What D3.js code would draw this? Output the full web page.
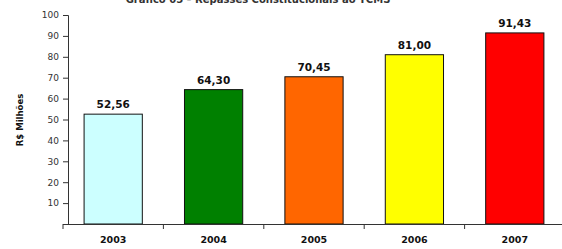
<!DOCTYPE html>
<html lang="pt">
<head>
<meta charset="UTF-8">
<title>Repasses</title>
<style>
  body { margin: 0; background: #fff; }
  svg text { font-family: "DejaVu Sans", sans-serif; }
</style>
</head>
<body>
<div id="chart"></div>
<script src="https://d3js.org/d3.v7.min.js"></script>
<script>
// dados
const anos = ['2003', '2004', '2005', '2006', '2007'];
const valores = [52.56, 64.30, 70.45, 81.00, 91.43];
const cores = ['#ccffff', '#008000', '#ff6600', '#ffff00', '#ff0000'];
const yTicks = [10, 20, 30, 40, 50, 60, 70, 80, 90, 100];
const titulo = 'Gráfico 05 – Repasses Constitucionais ao TCMS';

const width = 562, height = 249;
const margin = { top: 15, right: 0, bottom: 25, left: 63 };
const fonte = '"DejaVu Sans", sans-serif';

const svg = d3.select('#chart').append('svg')
    .attr('width', width)
    .attr('height', height);

const x = d3.scaleBand()
    .domain(anos)
    .range([margin.left, width - margin.right + 3])
    .paddingInner(0.42)
    .paddingOuter(0.21);

const y = d3.scaleLinear()
    .domain([0, 100])
    .range([height - margin.bottom, margin.top]);

// titulo (cortado no topo, como no original)
svg.append('text')
    .attr('x', 258)
    .attr('y', 3)
    .attr('text-anchor', 'middle')
    .attr('font-size', '10px')
    .attr('font-weight', 'bold')
    .attr('fill', '#333')
    .text(titulo);

// barras
svg.selectAll('rect.bar')
    .data(valores)
    .enter()
    .append('rect')
    .attr('class', 'bar')
    .attr('x', (d, i) => x(anos[i]))
    .attr('y', d => y(d))
    .attr('width', x.bandwidth())
    .attr('height', d => y(0) - y(d))
    .attr('fill', (d, i) => cores[i])
    .attr('stroke', '#111')
    .attr('stroke-width', 1);

// rotulos de valor
svg.selectAll('text.val')
    .data(valores)
    .enter()
    .append('text')
    .attr('class', 'val')
    .attr('x', (d, i) => x(anos[i]) + x.bandwidth() / 2)
    .attr('y', d => y(d) - 6)
    .attr('text-anchor', 'middle')
    .attr('font-size', '10.5px')
    .attr('font-weight', 'bold')
    .attr('fill', '#111')
    .text(d => d.toFixed(2).replace('.', ','));

// eixo y
const yAxis = svg.append('g')
    .attr('transform', `translate(${margin.left + 5},0)`)
    .call(d3.axisLeft(y).tickValues(yTicks).tickSize(5).tickPadding(4));
yAxis.select('.domain').attr('stroke', '#333');
yAxis.selectAll('.tick line').attr('stroke', '#333');
yAxis.selectAll('.tick text')
    .attr('font-size', '9px')
    .attr('fill', '#333')
    .style('font-family', fonte);

// eixo x
const xAxis = svg.append('g')
    .attr('transform', `translate(0,${y(0)})`)
    .call(d3.axisBottom(x).tickSize(0).tickPadding(12));
xAxis.select('.domain').attr('d', `M${margin.left},0.5H${width}`).attr('stroke', '#333');
xAxis.selectAll('.tick text')
    .attr('font-size', '9.5px')
    .attr('font-weight', 'bold')
    .attr('fill', '#111')
    .style('font-family', fonte);

// marcas entre categorias
const step = x.step();
const bounds = anos.map((a, i) => x(a) - step * x.paddingInner() / 2);
svg.selectAll('line.sep')
    .data(bounds)
    .enter()
    .append('line')
    .attr('class', 'sep')
    .attr('x1', d => d).attr('x2', d => d)
    .attr('y1', y(0)).attr('y2', y(0) + 5)
    .attr('stroke', '#333');

// rotulo do eixo y
svg.append('text')
    .attr('transform', 'translate(23,120) rotate(-90)')
    .attr('text-anchor', 'middle')
    .attr('font-size', '8.5px')
    .attr('font-weight', 'bold')
    .attr('fill', '#111')
    .text('R$ Milhões');
</script>
</body>
</html>
